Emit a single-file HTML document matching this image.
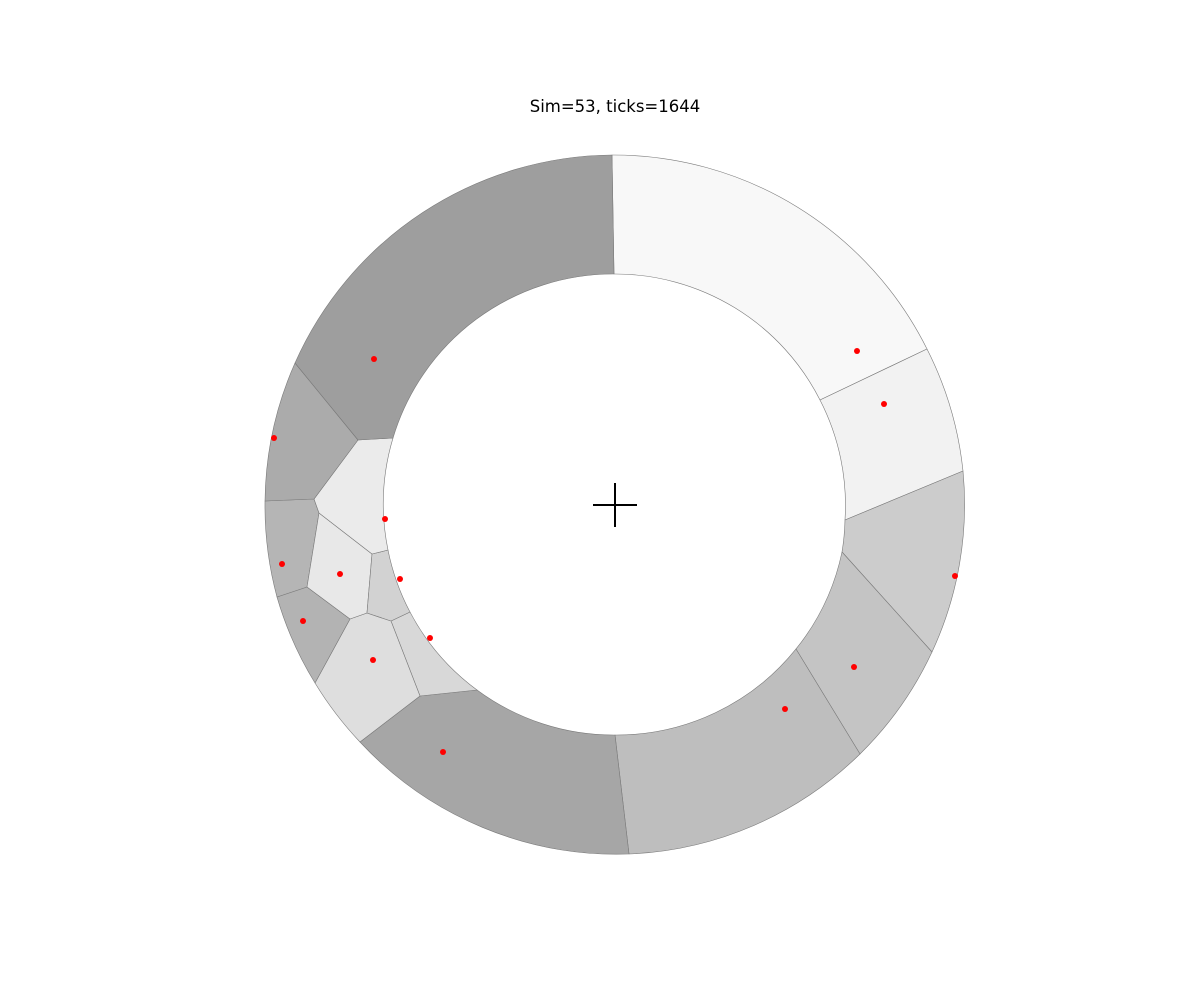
<!DOCTYPE html>
<html><head><meta charset="utf-8"><style>
html,body{margin:0;padding:0;background:#fff;}
svg{display:block;}
</style></head><body>
<svg id="chart" width="1200" height="1000" viewBox="0 0 1200 1000" xmlns="http://www.w3.org/2000/svg">
<text x="615" y="112" text-anchor="middle" font-family="DejaVu Sans, Liberation Sans, sans-serif" font-size="16.5" fill="#000">Sim=53, ticks=1644</text>
<g id="cells"></g>
<g id="seeds"></g>
<g>
<line id="chx" stroke="#000" stroke-width="2"/>
<line id="chy" stroke="#000" stroke-width="2"/>
</g>
</svg>
<script>
// data units: center at (0,0), outer radius 1, y up
const outerR = 1.0;
const innerR = 0.657;
// each cell: vertex x values, y values, and circle type ('o' outer, 'i' inner, 'p' interior)
const cellX = [
 [-0.0086,0.8914,0.5857,-0.0029],
 [0.8914,0.9943,0.6571,0.5857],
 [0.9943,0.9057,0.6486,0.6571],
 [0.9057,0.7000,0.5171,0.6486],
 [0.7000,0.0400,0.0000,0.5171],
 [0.0400,-0.7286,-0.5571,-0.3943,0.0000],
 [-0.3943,-0.5571,-0.6400,-0.5857],
 [-0.7286,-0.8571,-0.7571,-0.7086,-0.6400,-0.5571],
 [-0.8571,-0.9657,-0.8800,-0.7571],
 [-0.9657,-1.0000,-0.8600,-0.8457,-0.8800],
 [-0.8457,-0.6943,-0.7086,-0.7571,-0.8800],
 [-0.6943,-0.6486,-0.5857,-0.6400,-0.7086],
 [-0.7343,-0.6343,-0.6486,-0.6943,-0.8457,-0.8600],
 [-0.9143,-1.0000,-0.8600,-0.7343],
 [-0.9143,-0.0086,-0.0029,-0.6343,-0.7343]
];
const cellY = [
 [1.0000,0.4457,0.3000,0.6600],
 [0.4457,0.0971,-0.0429,0.3000],
 [0.0971,-0.4200,-0.1343,-0.0429],
 [-0.4200,-0.7114,-0.4114,-0.1343],
 [-0.7114,-0.9971,-0.6571,-0.4114],
 [-0.9971,-0.6771,-0.5457,-0.5286,-0.6571],
 [-0.5286,-0.5457,-0.3314,-0.3057],
 [-0.6771,-0.5086,-0.3257,-0.3086,-0.3314,-0.5457],
 [-0.5086,-0.2629,-0.2343,-0.3257],
 [-0.2629,0.0114,0.0171,-0.0229,-0.2343],
 [-0.0229,-0.1400,-0.3086,-0.3257,-0.2343],
 [-0.1400,-0.1286,-0.3057,-0.3314,-0.3086],
 [0.1857,0.1914,-0.1286,-0.1400,-0.0229,0.0171],
 [0.4057,0.0114,0.0171,0.1857],
 [0.4057,1.0000,0.6600,0.1914,0.1857]
];
const cellType = ["ooii","ooii","ooii","ooii","ooii","oopii","ippi","oopppp","oopp","ooppp","ppppp","piipp","piippp","oopp","ooiip"];
const cellShade = [248,242,204,196,190,166,216,222,179,181,232,210,235,171,158];
const seedX = [0.6914,0.7686,0.9714,0.6829,0.4857,-0.4914,-0.5286,-0.6914,-0.8914,-0.9514,-0.7857,-0.6143,-0.6571,-0.9743,-0.6886];
const seedY = [0.4400,0.2886,-0.2029,-0.4629,-0.5829,-0.7057,-0.3800,-0.4429,-0.3314,-0.1686,-0.1971,-0.2114,-0.0400,0.1914,0.4171];

const cx=615, cy=505, S=350;
const sx = v => cx + v*S;
const sy = v => cy - v*S;
const NS="http://www.w3.org/2000/svg";
const gCells=document.getElementById('cells');
const gSeeds=document.getElementById('seeds');

cellX.forEach((xs,ci)=>{
  const ys=cellY[ci], ts=cellType[ci];
  const n=xs.length;
  let d="";
  for(let k=0;k<n;k++){
    const px=sx(xs[k]), py=sy(ys[k]);
    if(k===0){d+="M"+px.toFixed(2)+" "+py.toFixed(2);}
    const j=(k+1)%n;
    const qx=sx(xs[j]), qy=sy(ys[j]);
    if(ts[k]===ts[j] && ts[k]!=='p'){
      const r=(ts[k]==='o'?outerR:innerR)*S;
      const cross=(px-cx)*(qy-cy)-(qx-cx)*(py-cy);
      d+=" A"+r+" "+r+" 0 0 "+(cross>0?1:0)+" "+qx.toFixed(2)+" "+qy.toFixed(2);
    } else {
      d+=" L"+qx.toFixed(2)+" "+qy.toFixed(2);
    }
  }
  d+="Z";
  const p=document.createElementNS(NS,'path');
  p.setAttribute('d',d);
  const s=cellShade[ci];
  p.setAttribute('fill','rgb('+s+','+s+','+s+')');
  p.setAttribute('stroke','#7a7a7a');
  p.setAttribute('stroke-width','0.6');
  p.setAttribute('stroke-linejoin','round');
  
  
  gCells.appendChild(p);
});
seedX.forEach((x,i)=>{
  const c=document.createElementNS(NS,'circle');
  c.setAttribute('cx',sx(x));
  c.setAttribute('cy',sy(seedY[i]));
  c.setAttribute('r','3');
  c.setAttribute('fill','#ff0000');
  
  
  gSeeds.appendChild(c);
});
const h=document.getElementById('chx');
h.setAttribute('x1',cx-22);h.setAttribute('x2',cx+22);h.setAttribute('y1',cy);h.setAttribute('y2',cy);
const v=document.getElementById('chy');
v.setAttribute('x1',cx);v.setAttribute('x2',cx);v.setAttribute('y1',cy-22);v.setAttribute('y2',cy+22);
</script>
</body></html>
